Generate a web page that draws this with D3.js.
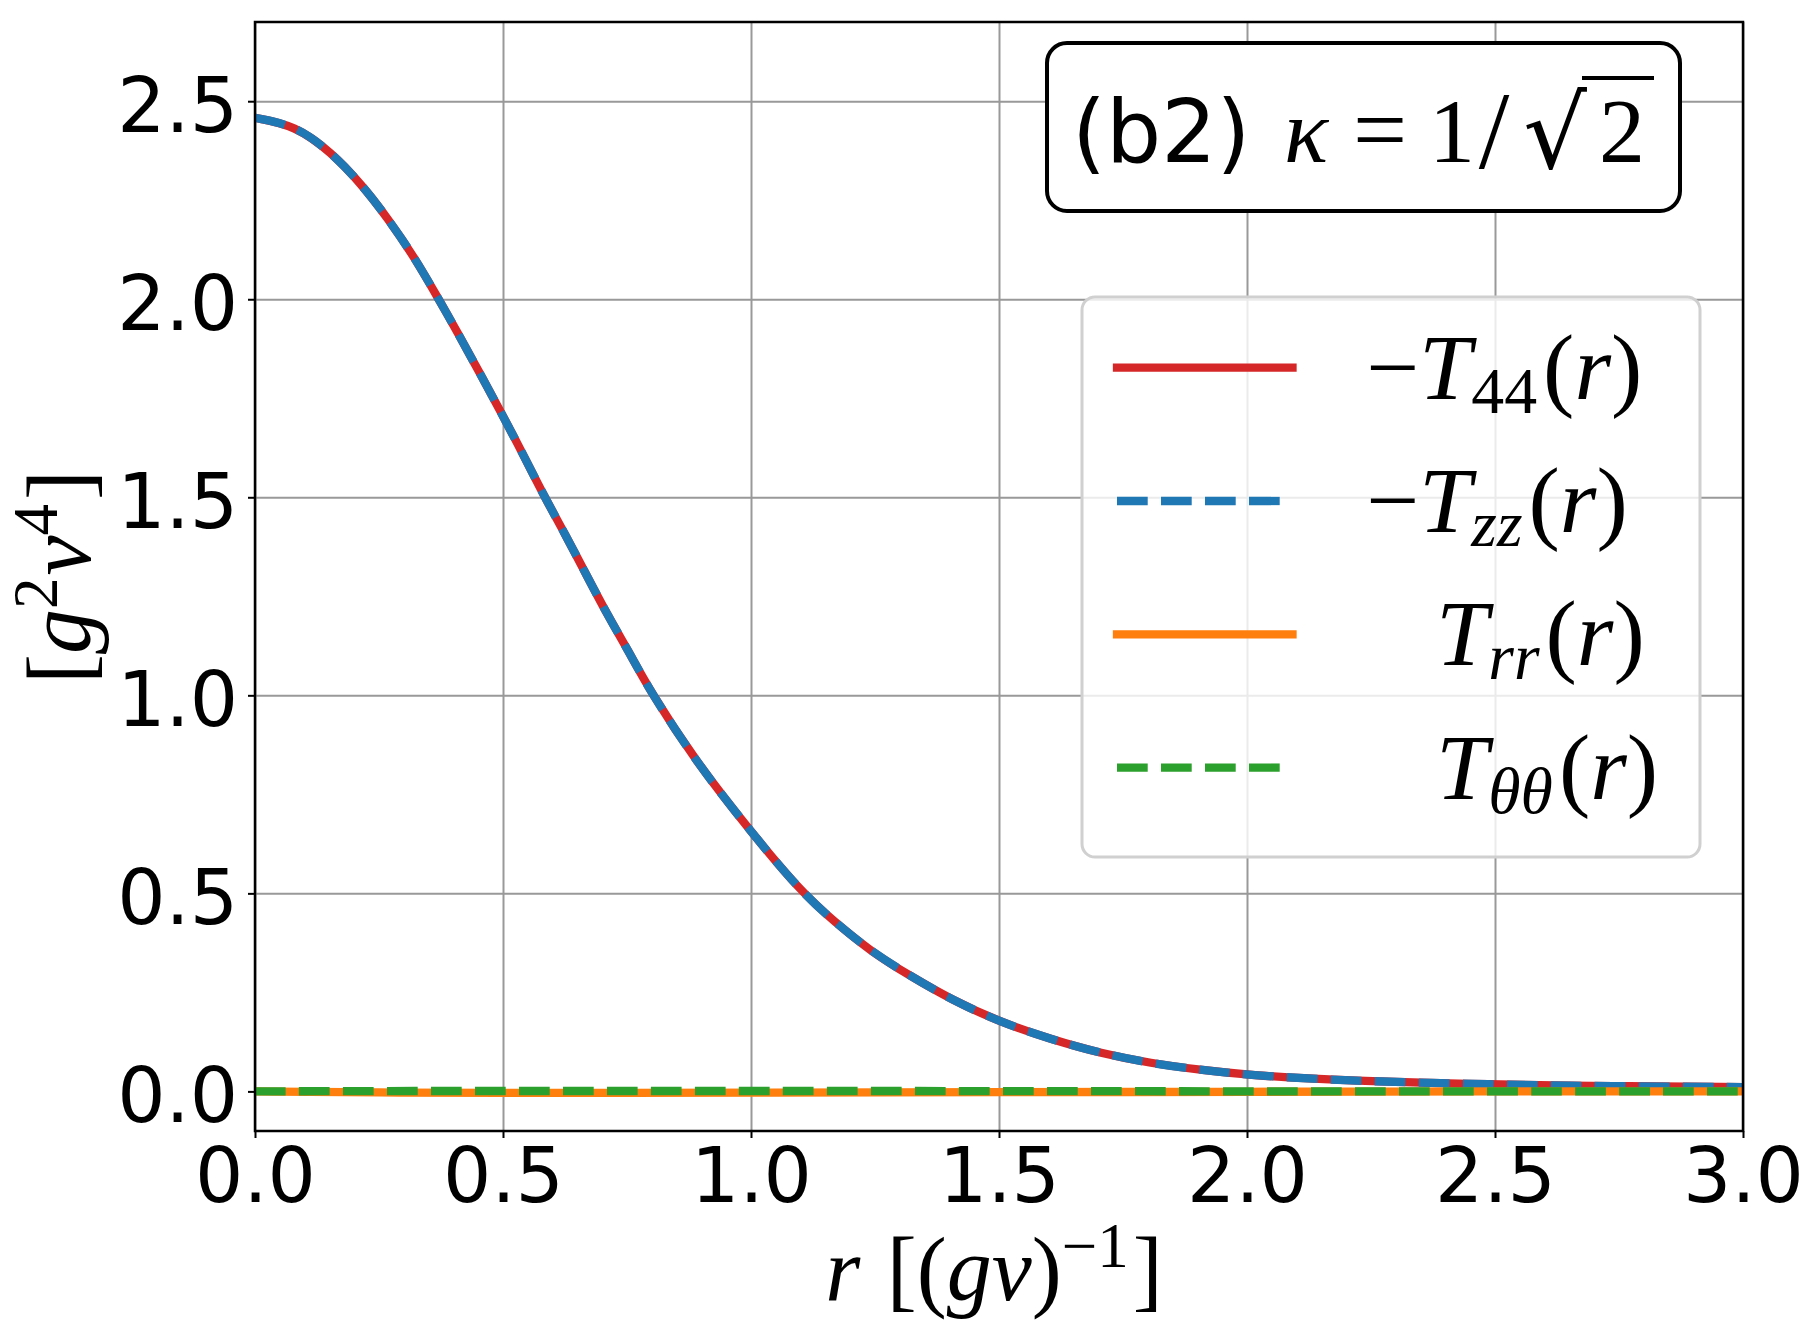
<!DOCTYPE html>
<html><head><meta charset="utf-8">
<script src="https://d3js.org/d3.v7.min.js"></script>
<style>body{margin:0;background:#fff}</style>
</head><body>
<svg id="chart"></svg>
<script>
// values
const rVals=[0,0.081,0.154,0.215,0.268,0.322,0.369,0.409,0.456,0.497,0.537,0.584,0.624,0.671,0.711,0.752,0.796,0.888,1.0,1.101,1.168,1.242,1.323,1.403,1.5,1.605,1.706,1.806,1.907,2.0,2.19,2.5,2.73,3.0];
const t44=[2.458,2.439,2.371,2.290,2.204,2.105,2.003,1.915,1.807,1.712,1.617,1.500,1.410,1.297,1.202,1.114,1.012,0.834,0.655,0.504,0.4285,0.353,0.290,0.2325,0.176,0.1315,0.096,0.071,0.054,0.0415,0.027,0.017,0.013,0.011];
const tzz=[2.458,2.439,2.371,2.290,2.204,2.105,2.003,1.915,1.807,1.712,1.617,1.500,1.410,1.297,1.202,1.114,1.012,0.834,0.655,0.504,0.4285,0.353,0.290,0.2325,0.176,0.1315,0.096,0.071,0.054,0.0415,0.027,0.017,0.013,0.011];
const rFlat=[0,0.25,0.5,0.75,1.0,1.5,2.0,2.5,3.0];
const trr=[0,-0.003,-0.004,-0.004,-0.003,-0.002,-0.001,0,0];
const ttt=[0,0.001,0.001,0.001,0.001,0.001,0,0,0];
const xTicks=[0,0.5,1,1.5,2,2.5,3];
const yTicks=[0,0.5,1,1.5,2,2.5];

const W=1818,H=1340;
const margin={top:22,right:75,bottom:209,left:255};
const LW=8.3, DASH='30.7,13.3';
const mathFont='"Liberation Serif", "DejaVu Serif", serif';

const svg=d3.select('#chart').attr('width',W).attr('height',H)
  .style('background','#fff');
const x=d3.scaleLinear().domain([0,3]).range([margin.left,W-margin.right]);
const y=d3.scaleLinear().domain([-0.1,2.7]).range([H-margin.bottom,margin.top]);

svg.append('defs').append('clipPath').attr('id','plot')
  .append('rect').attr('x',margin.left).attr('y',margin.top)
  .attr('width',W-margin.left-margin.right).attr('height',H-margin.top-margin.bottom);

// grid
svg.append('g').attr('transform',`translate(0,${H-margin.bottom})`)
  .call(d3.axisBottom(x).tickValues(xTicks).tickSize(-(H-margin.top-margin.bottom)).tickFormat(''))
  .call(g=>g.select('.domain').remove())
  .call(g=>g.selectAll('line').attr('stroke','#999').attr('stroke-width',2));
svg.append('g').attr('transform',`translate(${margin.left},0)`)
  .call(d3.axisLeft(y).tickValues(yTicks).tickSize(-(W-margin.left-margin.right)).tickFormat(''))
  .call(g=>g.select('.domain').remove())
  .call(g=>g.selectAll('line').attr('stroke','#999').attr('stroke-width',2));

// curves
const series=[
  {xs:rVals,ys:t44,color:'#d62728',dash:null},
  {xs:rVals,ys:tzz,color:'#1f77b4',dash:DASH},
  {xs:rFlat,ys:trr,color:'#ff7f0e',dash:null},
  {xs:rFlat,ys:ttt,color:'#2ca02c',dash:DASH}
];
const line=d3.line().curve(d3.curveBasis).x(d=>x(d[0])).y(d=>y(d[1]));
const curves=svg.append('g').attr('clip-path','url(#plot)');
series.forEach(s=>{
  curves.append('path').datum(s.xs.map((v,i)=>[v,s.ys[i]]))
    .attr('d',line).attr('fill','none').attr('stroke',s.color)
    .attr('stroke-width',LW).attr('stroke-dasharray',s.dash)
    .attr('stroke-linejoin','round');
});

// axes
const tickFont='"DejaVu Sans", sans-serif';
svg.append('g').attr('transform',`translate(0,${H-margin.bottom})`)
  .call(d3.axisBottom(x).tickValues(xTicks).tickFormat(d3.format('.1f')).tickSize(7).tickPadding(10))
  .call(g=>g.select('.domain').remove())
  .call(g=>g.selectAll('line').attr('stroke','#000').attr('stroke-width',2))
  .call(g=>g.selectAll('text').attr('font-family',tickFont).attr('font-size',76).attr('fill','#000'));
svg.append('g').attr('transform',`translate(${margin.left},0)`)
  .call(d3.axisLeft(y).tickValues(yTicks).tickFormat(d3.format('.1f')).tickSize(7).tickPadding(10))
  .call(g=>g.select('.domain').remove())
  .call(g=>g.selectAll('line').attr('stroke','#000').attr('stroke-width',2))
  .call(g=>g.selectAll('text').attr('font-family',tickFont).attr('font-size',76).attr('fill','#000').attr('dy','0.40em'));
svg.append('rect').attr('x',margin.left).attr('y',margin.top)
  .attr('width',W-margin.left-margin.right).attr('height',H-margin.top-margin.bottom)
  .attr('fill','none').attr('stroke','#000').attr('stroke-width',2.5);

function mathText(g,parts,size){
  const t=g.append('text').attr('font-family',mathFont).attr('font-size',size).attr('fill','#000');
  let shift=0;
  parts.forEach(p=>{
    const ts=t.append('tspan').text(p.t);
    const target=p.sup?-0.37*size:p.sub?0.15*size:0;
    ts.attr('dy',target-shift); shift=target;
    if(p.sup||p.sub) ts.attr('font-size',size*0.7);
    if(p.it) ts.attr('font-style','italic');
    if(p.dx) ts.attr('dx',p.dx);
  });
  return t;
}

// axis labels
mathText(svg,[{t:'r',it:true},{t:' [(',dx:4},{t:'g',it:true},{t:'v',it:true},{t:')'},{t:'−1',sup:true},{t:']',dx:4}],90)
  .attr('x',x(1.5)-5).attr('y',1300).attr('text-anchor','middle');
mathText(svg,[{t:'['},{t:'g',it:true},{t:'2',sup:true},{t:'v',it:true,dx:2},{t:'4',sup:true},{t:']',dx:4}],90)
  .attr('text-anchor','middle').attr('transform','translate(90,577) rotate(-90)');

// title box
const tb=svg.append('g');
tb.append('rect').attr('x',1047).attr('y',43).attr('width',633).attr('height',168).attr('rx',20)
  .attr('fill','#fff').attr('stroke','#000').attr('stroke-width',4);
tb.append('text').attr('x',1072).attr('y',162).attr('font-family',tickFont).attr('font-size',87).text('(b2)');
tb.append('text').attr('x',1306).attr('y',162).attr('text-anchor','middle').attr('font-family',mathFont)
  .attr('font-style','italic').attr('font-size',92).text('κ');
tb.append('text').attr('x',1380).attr('y',162).attr('text-anchor','middle').attr('font-family',mathFont).attr('font-size',96).text('=');
tb.append('text').attr('x',1452).attr('y',162).attr('text-anchor','middle').attr('font-family',mathFont).attr('font-size',92).text('1');
tb.append('text').attr('x',1494).attr('y',168).attr('text-anchor','middle').attr('font-family',mathFont).attr('font-size',110).text('/');
tb.append('text').attr('x',1555).attr('y',168).attr('text-anchor','middle').attr('font-family','"DejaVu Serif", serif').attr('font-size',100).text('√');
tb.append('text').attr('x',1622).attr('y',162).attr('text-anchor','middle').attr('font-family',mathFont).attr('font-size',92).text('2');
tb.append('line').attr('x1',1582).attr('x2',1654).attr('y1',78).attr('y2',78).attr('stroke','#000').attr('stroke-width',4);

// legend
const legendLabels=[
  [{t:'−'},{t:'T',it:true},{t:'44',sub:true},{t:'(',dx:6},{t:'r',it:true},{t:')'}],
  [{t:'−'},{t:'T',it:true},{t:'zz',sub:true,it:true},{t:'(',dx:6},{t:'r',it:true},{t:')'}],
  [{t:'T',it:true},{t:'rr',sub:true,it:true},{t:'(',dx:6},{t:'r',it:true},{t:')'}],
  [{t:'T',it:true},{t:'θθ',sub:true,it:true},{t:'(',dx:6},{t:'r',it:true},{t:')'}]
];
const lg=svg.append('g');
lg.append('rect').attr('x',1082).attr('y',297).attr('width',618).attr('height',560).attr('rx',13)
  .attr('fill','rgba(255,255,255,0.8)').attr('stroke','#d0d0d0').attr('stroke-width',3);
const rowY=d3.scaleLinear().domain([0,3]).range([367.7,767.6]);
series.forEach((s,i)=>{
  lg.append('line').attr('x1',1117).attr('x2',1292.5).attr('y1',rowY(i)).attr('y2',rowY(i))
    .attr('stroke',s.color).attr('stroke-width',LW).attr('stroke-dasharray',s.dash)
    .attr('stroke-linecap',s.dash?'butt':'square');
  mathText(lg,legendLabels[i],94).attr('x',i<2?1366:1436).attr('y',rowY(i)+31);
});
</script>
</body></html>
